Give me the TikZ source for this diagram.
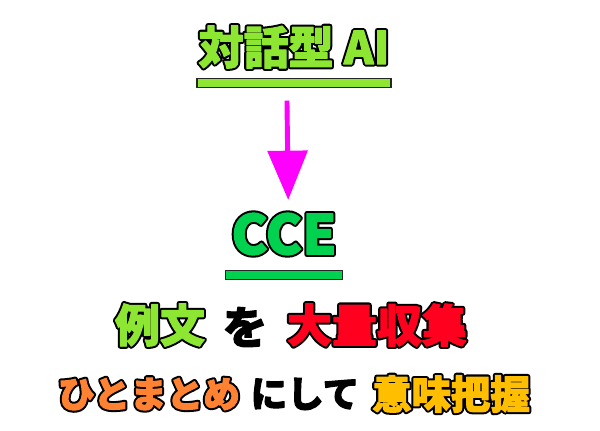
\documentclass[tikz,border=0pt]{standalone}
\usepackage{fontspec}
\setmainfont{Noto Sans CJK JP}
\usetikzlibrary{arrows.meta}
\definecolor{lime}{RGB}{140,230,50}
\definecolor{ccegreen}{RGB}{0,210,80}
\definecolor{kred}{RGB}{255,0,30}
\definecolor{korange}{RGB}{255,130,50}
\definecolor{kyellow}{RGB}{255,190,0}
\definecolor{kmagenta}{RGB}{255,0,255}
\newcommand\heavy[1]{\special{pdf:literal direct 2 Tr 0.7 w 1 j}#1\special{pdf:literal direct 0 Tr}}
\newcommand\outlined[2]{\leavevmode\rlap{\textcolor{black}{\special{pdf:literal direct 2 Tr 3.6 w 1 j}#2\special{pdf:literal direct 0 Tr}}}\textcolor{#1}{\heavy{#2}}}
\begin{document}
\begin{tikzpicture}[x=0.025cm,y=-0.025cm,
  big/.style={font=\bfseries\fontsize{32pt}{34pt}\selectfont,inner sep=0pt},
  small/.style={font=\bfseries\fontsize{26pt}{28pt}\selectfont,inner sep=0pt},
  bar/.style={draw=black!85,line width=1pt,inner sep=0pt,minimum height=6pt}]
\useasboundingbox[fill=white](0,0)rectangle(600,430);
\node[big](ai) at(294,47){\outlined{lime}{対話型 AI}};
\node[bar,fill=lime,minimum width=138pt](ailine) at(294,83){};
\node[font=\bfseries\fontsize{39pt}{41pt}\selectfont,inner sep=0pt](cce) at(284,234){\outlined{ccegreen}{CCE}};
\node[bar,fill=ccegreen,minimum width=83pt](cceline) at(284,275){};
\draw[kmagenta,line width=3.5pt,-{Triangle[width=28pt,length=35pt]}]([xshift=-5pt,yshift=-9pt]ailine.south)--([xshift=3pt,yshift=9pt]cce.north);
\node[big](rei) at(160,325){\outlined{lime}{例文}};
\node[big](wo) at(245,327){\heavy{を}};
\node[big](tai) at(377,325){\outlined{kred}{大量収集}};
\node[small](hito) at(149,394){\outlined{korange}{ひとまとめ}};
\node[small](ni) at(305,394){\heavy{にして}};
\node[small,font=\bfseries\fontsize{28pt}{30pt}\selectfont](imi) at(451,394){\outlined{kyellow}{意味把握}};
\end{tikzpicture}
\end{document}
